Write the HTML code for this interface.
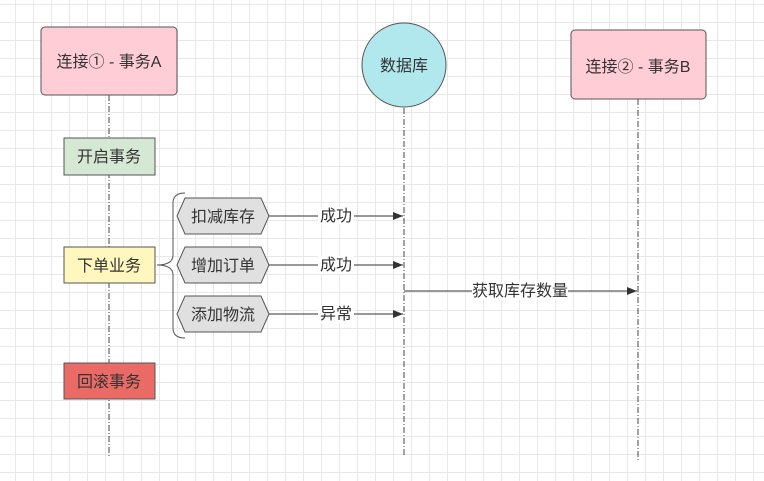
<!DOCTYPE html>
<html><head><meta charset="utf-8"><style>
html,body{margin:0;padding:0;}
body{width:764px;height:481px;overflow:hidden;background:#fff;
background-image:linear-gradient(to right,#e8e8e8 1px,transparent 1px),linear-gradient(to bottom,#e8e8e8 1px,transparent 1px);
background-size:18px 18px;background-position:15px 4px;}
svg{position:absolute;left:0;top:0;}
text{font-family:"Liberation Sans","Noto Sans CJK SC",sans-serif;font-size:16px;fill:#333;}
</style></head><body>
<svg width="764" height="481" viewBox="0 0 764 481">
<defs><marker id="a" markerWidth="10" markerHeight="8" refX="10" refY="4" orient="auto" markerUnits="userSpaceOnUse"><path d="M0,0 L10,4 L0,8 Z" fill="#333"/></marker></defs>
<g stroke="#444" stroke-width="1" stroke-dasharray="6,2,1,2" fill="none">
<line x1="109" y1="95" x2="109" y2="457"/>
<line x1="404" y1="108" x2="404" y2="457"/>
<line x1="638" y1="99" x2="638" y2="460"/>
</g>
<rect x="41" y="27" width="136" height="68" rx="4" fill="#ffcdd6" stroke="#555"/>
<text x="109" y="67" text-anchor="middle">连接① - 事务A</text>
<circle cx="404" cy="65" r="42" fill="#b1e8ee" stroke="#555"/>
<text x="404" y="71" text-anchor="middle">数据库</text>
<rect x="571" y="30" width="135" height="69" rx="4" fill="#ffcdd6" stroke="#555"/>
<text x="638" y="72" text-anchor="middle">连接② - 事务B</text>
<rect x="64" y="138" width="91" height="37" fill="#d5e8d4" stroke="#555"/>
<text x="109" y="162" text-anchor="middle" font-size="15">开启事务</text>
<rect x="64" y="247" width="91" height="36" fill="#fff7bd" stroke="#555"/>
<text x="109" y="271" text-anchor="middle" font-size="15">下单业务</text>
<rect x="64" y="363" width="91" height="36" fill="#ea6b66" stroke="#555"/>
<text x="109" y="387" text-anchor="middle" font-size="15">回滚事务</text>
<path d="M185,193 Q173,193 173,203 L173,255 Q173,265 157,265 Q173,265 173,275 L173,328 Q173,338 185,338" fill="none" stroke="#555"/>
<g fill="#e0e0e0" stroke="#555">
<polygon points="185,198 261,198 269,216 261,234 185,234 177,216"/>
<polygon points="185,247 261,247 269,265 261,283 185,283 177,265"/>
<polygon points="185,296 261,296 269,314 261,332 185,332 177,314"/>
</g>
<text x="223" y="222" text-anchor="middle">扣减库存</text>
<text x="223" y="271" text-anchor="middle">增加订单</text>
<text x="223" y="320" text-anchor="middle">添加物流</text>
<g stroke="#333" stroke-width="1" marker-end="url(#a)">
<line x1="269" y1="216" x2="403" y2="216"/>
<line x1="269" y1="265" x2="403" y2="265"/>
<line x1="269" y1="314" x2="403" y2="314"/>
<line x1="404" y1="291" x2="637" y2="291"/>
</g>
<g fill="#fff"><rect x="318" y="207" width="36" height="18"/><rect x="318" y="256" width="36" height="18"/><rect x="318" y="305" width="36" height="18"/><rect x="472" y="282" width="96" height="18"/></g>
<text x="336" y="221" text-anchor="middle" font-size="14">成功</text>
<text x="336" y="270" text-anchor="middle" font-size="14">成功</text>
<text x="336" y="319" text-anchor="middle" font-size="14">异常</text>
<text x="520" y="296" text-anchor="middle" font-size="14">获取库存数量</text>
</svg>
</body></html>
